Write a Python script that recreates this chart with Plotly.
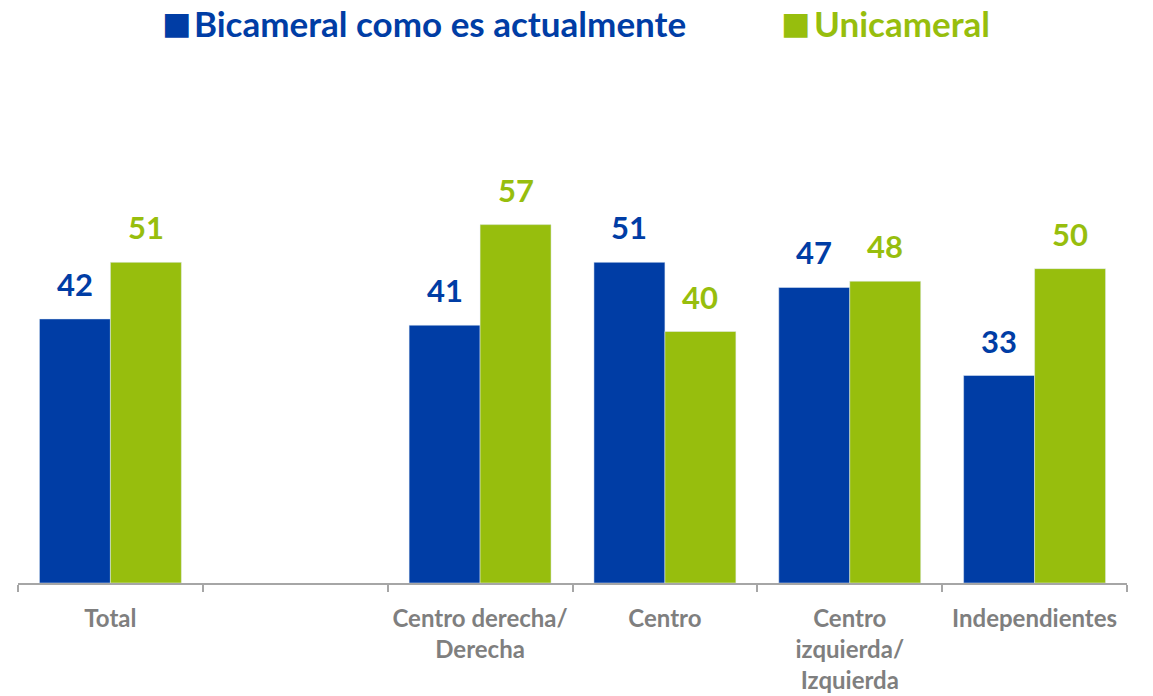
''' Bicameral vs Unicameral por posición política '''
import plotly.graph_objects as go

categories = ['Total', ' ', 'Centro derecha/<br>Derecha', 'Centro',
              'Centro<br>izquierda/<br>Izquierda', 'Independientes']
bicameral = [42, None, 41, 51, 47, 33]
unicameral = [51, None, 57, 40, 48, 50]

series_names = ['Bicameral como es actualmente', 'Unicameral']
blue = '#003DA5'
green = '#97BE0D'
gray = '#7F7F7F'
font_family = 'Lato'

fig = go.Figure()

fig.add_trace(
    go.Bar(
        x = categories,
        y = bicameral,
        name = series_names[0],
        marker_color = blue
    )
)

fig.add_trace(
    go.Bar(
        x = categories,
        y = unicameral,
        name = series_names[1],
        marker_color = green
    )
)

# value labels above each bar
bargap = 0.232
plot_w = 1153 - 18 - 26
bar_px = plot_w / len(categories) * (1 - bargap) / 2
annotations = []
for vals, col, shift in [(bicameral, blue, -bar_px / 2), (unicameral, green, bar_px / 2)]:
    for cat, v in zip(categories, vals):
        if v is None:
            continue
        annotations.append(dict(
            x = cat, y = v, xref = 'x', yref = 'y',
            text = f'<b>{v}</b>', showarrow = False,
            xshift = shift, yshift = 14, yanchor = 'bottom',
            font = dict(family = font_family, size = 31, color = col)
        ))

# legend drawn as text at the top: square marker + bold name
for name, col, xsq, xtxt in [(series_names[0], blue, 0.1285, 0.1578),
                             (series_names[1], green, 0.6875, 0.7169)]:
    annotations.append(dict(
        x = xsq, y = 1.1133, xref = 'paper', yref = 'paper',
        xanchor = 'left', yanchor = 'middle', showarrow = False,
        text = '■', borderpad = 0,
        font = dict(family = 'DejaVu Sans', size = 31, color = col)
    ))
    annotations.append(dict(
        x = xtxt, y = 1.1133, xref = 'paper', yref = 'paper',
        xanchor = 'left', yanchor = 'middle', showarrow = False,
        text = f'<b>{name}</b>', borderpad = 0,
        font = dict(family = font_family, size = 35, color = col)
    ))

fig.update_layout(
    width = 1153,
    height = 696,
    barmode = 'group',
    bargap = bargap,
    bargroupgap = 0,
    showlegend = False,
    plot_bgcolor = 'white',
    paper_bgcolor = 'white',
    margin = dict(l = 18, r = 26, t = 80, b = 113),
    font = dict(family = font_family),
    xaxis = dict(
        type = 'category',
        categoryorder = 'array',
        categoryarray = categories,
        automargin = False,
        showline = True,
        linecolor = '#A6A6A6',
        linewidth = 1.5,
        ticks = 'outside',
        tickson = 'boundaries',
        ticklen = 7,
        tickcolor = '#A6A6A6',
        tickwidth = 1.5,
        ticklabelstandoff = 13,
        showgrid = False,
        tickfont = dict(family = font_family, size = 24, color = gray, weight = 'bold')
    ),
    yaxis = dict(
        range = [0, 80],
        visible = False,
        automargin = False,
        showgrid = False
    ),
    annotations = annotations
)

fig.write_html('out.html', config = {'displayModeBar': False},
               post_script = "document.body.style.margin = '0';")
